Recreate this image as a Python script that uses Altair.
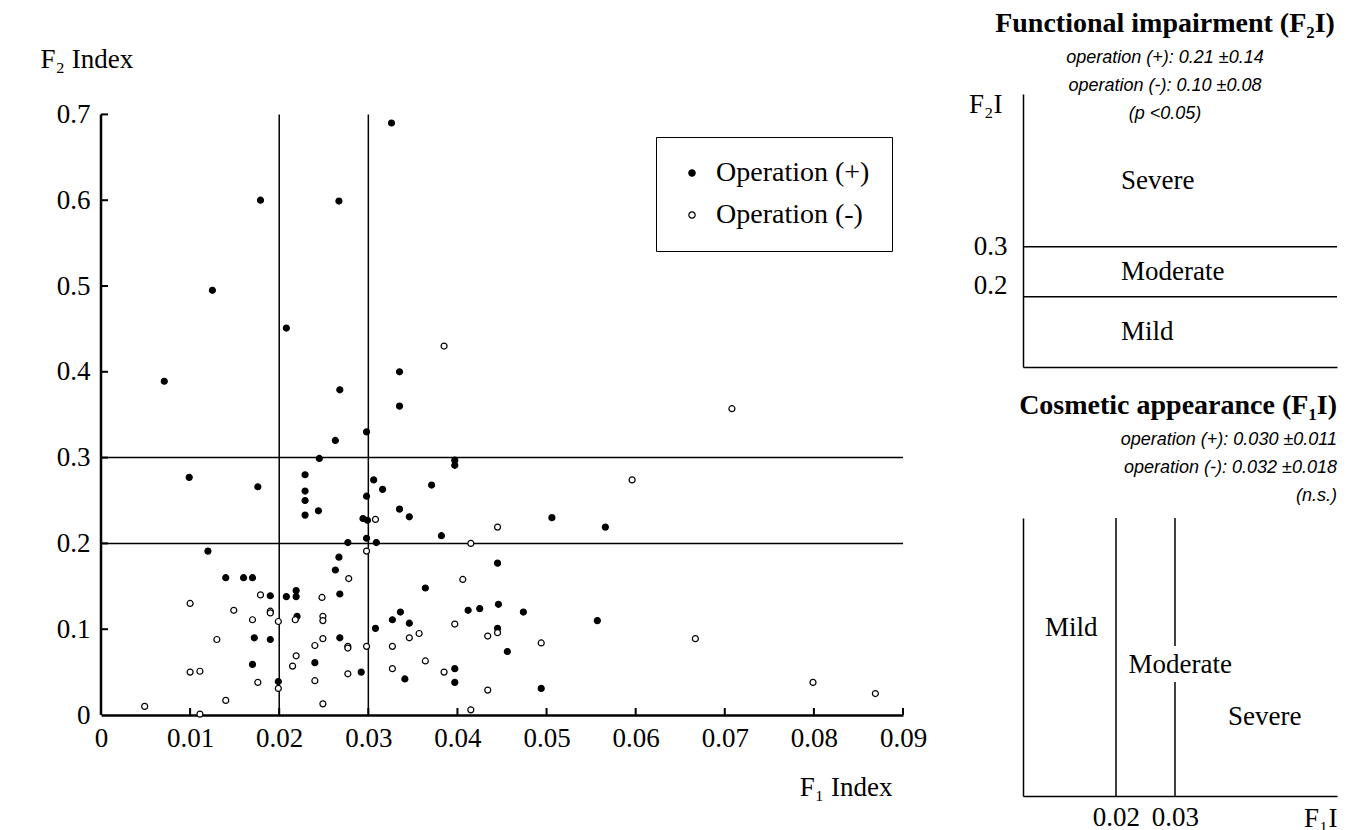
import altair as alt
import pandas as pd

# ---------------- data ----------------
groups = ["Operation (+)", "Operation (-)"]

plus_f1 = [0.0326, 0.0179, 0.0267, 0.0125, 0.0208, 0.0335, 0.0071, 0.0268, 0.0335, 0.0298,
           0.0263, 0.0245, 0.0397, 0.0397, 0.0099, 0.0176, 0.0229, 0.0229, 0.0229, 0.0229,
           0.0244, 0.0306, 0.0316, 0.0298, 0.0371, 0.0335, 0.0346, 0.0294, 0.0299, 0.0382,
           0.0298, 0.0277, 0.0309, 0.0120, 0.0267, 0.0445, 0.0263, 0.0140, 0.0160, 0.0170,
           0.0364, 0.0190, 0.0208, 0.0219, 0.0219, 0.0268, 0.0412, 0.0425, 0.0446, 0.0336,
           0.0346, 0.0308, 0.0327, 0.0220, 0.0445, 0.0172, 0.0190, 0.0268, 0.0170, 0.0240,
           0.0292, 0.0397, 0.0341, 0.0397, 0.0199, 0.0456, 0.0506, 0.0566, 0.0474, 0.0557,
           0.0494]
plus_f2 = [0.690, 0.600, 0.599, 0.495, 0.451, 0.400, 0.389, 0.379, 0.360, 0.330,
           0.320, 0.299, 0.297, 0.291, 0.277, 0.266, 0.280, 0.261, 0.250, 0.233,
           0.238, 0.274, 0.263, 0.255, 0.268, 0.240, 0.231, 0.229, 0.227, 0.209,
           0.206, 0.201, 0.201, 0.191, 0.184, 0.177, 0.169, 0.160, 0.160, 0.160,
           0.148, 0.139, 0.138, 0.145, 0.138, 0.141, 0.122, 0.124, 0.129, 0.120,
           0.107, 0.101, 0.111, 0.115, 0.101, 0.090, 0.088, 0.090, 0.059, 0.061,
           0.050, 0.054, 0.042, 0.038, 0.039, 0.074, 0.230, 0.219, 0.120, 0.110,
           0.031]

minus_f1 = [0.0385, 0.0308, 0.0445, 0.0415, 0.0298, 0.0278, 0.0406, 0.0179, 0.0248, 0.0100,
            0.0149, 0.0190, 0.0190, 0.0170, 0.0199, 0.0218, 0.0249, 0.0249, 0.0445, 0.0397,
            0.0434, 0.0357, 0.0346, 0.0130, 0.0249, 0.0240, 0.0277, 0.0277, 0.0298, 0.0327,
            0.0219, 0.0215, 0.0364, 0.0100, 0.0111, 0.0327, 0.0277, 0.0385, 0.0176, 0.0240,
            0.0199, 0.0434, 0.0140, 0.0049, 0.0249, 0.0111, 0.0415, 0.0708, 0.0596, 0.0494,
            0.0667, 0.0799, 0.0869]
minus_f2 = [0.430, 0.228, 0.219, 0.200, 0.191, 0.159, 0.158, 0.140, 0.137, 0.130,
            0.122, 0.121, 0.119, 0.111, 0.109, 0.111, 0.115, 0.110, 0.096, 0.106,
            0.092, 0.095, 0.090, 0.088, 0.089, 0.081, 0.080, 0.078, 0.080, 0.080,
            0.069, 0.057, 0.063, 0.050, 0.051, 0.054, 0.048, 0.050, 0.038, 0.040,
            0.031, 0.029, 0.017, 0.010, 0.013, 0.001, 0.006, 0.357, 0.274, 0.084,
            0.089, 0.038, 0.025]

x_ticks = [0, 0.01, 0.02, 0.03, 0.04, 0.05, 0.06, 0.07, 0.08, 0.09]
y_ticks = [0, 0.1, 0.2, 0.3, 0.4, 0.5, 0.6, 0.7]
f1_cut = [0.02, 0.03]
f2_cut = [0.2, 0.3]

f2_title = "Functional impairment (F\u2082I)"
f2_stats = ["operation (+): 0.21  \u00b10.14", "operation (-): 0.10  \u00b10.08", "(p <0.05)"]
f1_title = "Cosmetic appearance (F\u2081I)"
f1_stats = ["operation (+): 0.030  \u00b10.011", "operation (-): 0.032  \u00b10.018", "(n.s.)"]
severity = ["Mild", "Moderate", "Severe"]

# annotation anchors (data coordinates of each schematic panel)
f2_label_x = 0.312
f2_label_y = [0.129, 0.249, 0.432]
f1_label_x = [0.0124, 0.0309, 0.0452]
f1_label_y = [0.604, 0.471, 0.285]
f1_gap = [0.41, 0.54]   # gap in the 0.03 line around "Moderate"

# ---------------- styling ----------------
SERIF = "Liberation Serif"
SANS = "Liberation Sans"
FS = 27
W, H = 802, 621
PX_PER_Y = 858.0

xs = alt.Scale(domain=[0, 0.09], nice=False, zero=False)
ys = alt.Scale(domain=[0, H / PX_PER_Y], nice=False, zero=False)

X_AXIS = alt.Axis(values=x_ticks,
                  labelExpr="datum.value == 0 ? '0' : format(datum.value, '.2f')",
                  title="F\u2081 Index", ticks=False, grid=False,
                  domainColor="black", domainWidth=2.5,
                  labelFont=SERIF, labelFontSize=FS, labelColor="black", labelPadding=10,
                  labelFlush=False, labelOverlap=False,
                  titleFont=SERIF, titleFontSize=FS, titleFontWeight="normal", titleColor="black",
                  titleX=791, titleY=72, titleAlign="right", titleBaseline="middle")
Y_AXIS = alt.Axis(values=y_ticks,
                  labelExpr="datum.value == 0 ? '0' : format(datum.value, '.1f')",
                  title="F\u2082 Index", domain=False, ticks=False, grid=False,
                  labelFont=SERIF, labelFontSize=FS, labelColor="black", labelPadding=11,
                  labelFlush=False, labelOverlap=False,
                  titleFont=SERIF, titleFontSize=FS, titleFontWeight="normal", titleColor="black",
                  titleAngle=0, titleX=-61, titleY=-35, titleAlign="left", titleBaseline="middle")

# ---------------- main scatter ----------------
pts = pd.DataFrame({
    "f1": plus_f1 + minus_f1,
    "f2": plus_f2 + minus_f2,
    "group": [groups[0]] * len(plus_f1) + [groups[1]] * len(minus_f1),
})

yline = alt.Chart(pd.DataFrame({"lo": [min(y_ticks)], "hi": [max(y_ticks)]})).mark_rule(
    color="black", strokeWidth=2.5).encode(
    x=alt.XDatum(0, scale=xs),
    y=alt.Y("lo:Q", scale=ys, axis=Y_AXIS),
    y2="hi:Q")

hcut = alt.Chart(pd.DataFrame({"c": f2_cut, "x0": min(x_ticks), "x1": max(x_ticks)})).mark_rule(
    color="black", strokeWidth=1.5).encode(
    y=alt.Y("c:Q", scale=ys, axis=Y_AXIS),
    x=alt.X("x0:Q", scale=xs, axis=X_AXIS),
    x2="x1:Q")

vcut = alt.Chart(pd.DataFrame({"c": f1_cut, "y0": min(y_ticks), "y1": max(y_ticks)})).mark_rule(
    color="black", strokeWidth=1.5).encode(
    x=alt.X("c:Q", scale=xs, axis=X_AXIS),
    y=alt.Y("y0:Q", scale=ys, axis=Y_AXIS),
    y2="y1:Q")

xt = alt.Chart(pd.DataFrame({"v": x_ticks[1:]})).mark_rule(color="black", strokeWidth=2).encode(
    x=alt.X("v:Q", scale=xs, axis=X_AXIS),
    y=alt.YDatum(0, scale=ys),
    y2=alt.value(H - 7))

yt = alt.Chart(pd.DataFrame({"v": y_ticks[1:]})).mark_rule(color="black", strokeWidth=2).encode(
    y=alt.Y("v:Q", scale=ys, axis=Y_AXIS),
    x=alt.XDatum(0, scale=xs),
    x2=alt.value(7))

points = alt.Chart(pts).mark_circle(size=36, stroke="black", strokeWidth=1.2, opacity=1).encode(
    x=alt.X("f1:Q", scale=xs, axis=X_AXIS),
    y=alt.Y("f2:Q", scale=ys, axis=Y_AXIS),
    fill=alt.Fill("group:N", scale=alt.Scale(domain=groups, range=["black", "white"]),
                  legend=alt.Legend(title=None, orient="none", legendX=555, legendY=43,
                                    direction="vertical", strokeColor="black", padding=22,
                                    labelFont=SERIF, labelFontSize=28, labelColor="black",
                                    labelOffset=10, symbolType="circle", symbolSize=40,
                                    symbolStrokeColor="black", symbolStrokeWidth=1.2,
                                    rowPadding=14)),
)

main = alt.layer(yline, hcut, vcut, xt, yt, points).properties(width=W, height=H)

# ---------------- F2I schematic ----------------
PW, P2H, P1H = 314, 273, 278
f2x = alt.Scale(domain=[0, 1], nice=False, zero=False)
f2y = alt.Scale(domain=[0.0594, 0.6054], nice=False, zero=False)
F2_YAXIS = alt.Axis(values=f2_cut, format=".1f", ticks=False, grid=False,
                    domainColor="black", domainWidth=1.5,
                    labelFont=SERIF, labelFontSize=FS, labelColor="black", labelPadding=16,
                    labelOffset={"condition": {"test": "datum.value < 0.25", "value": -11}, "value": 0},
                    title="F\u2082I", titleAngle=0, titleX=-21, titleY=10, titleAlign="right",
                    titleBaseline="middle", titleFont=SERIF, titleFontSize=FS,
                    titleFontWeight="normal", titleColor="black")
F2_XAXIS = alt.Axis(labels=False, ticks=False, grid=False, title=None,
                    domainColor="black", domainWidth=1.5)

f2_rules = alt.Chart(pd.DataFrame({"cut": f2_cut})).mark_rule(color="black", strokeWidth=1.5).encode(
    y=alt.Y("cut:Q", scale=f2y, axis=F2_YAXIS),
    x=alt.XDatum(0, scale=f2x, axis=F2_XAXIS),
    x2=alt.X2Datum(1))
f2_text = alt.Chart(pd.DataFrame({"label": severity, "y": f2_label_y})).mark_text(
    font=SERIF, fontSize=FS, align="left", baseline="middle", color="black").encode(
    y=alt.Y("y:Q", scale=f2y, axis=F2_YAXIS),
    x=alt.XDatum(f2_label_x, scale=f2x, axis=F2_XAXIS),
    text="label:N")

f2_panel = alt.layer(f2_rules, f2_text).properties(
    width=PW, height=P2H,
    title=alt.TitleParams(text=f2_title, subtitle=f2_stats, font=SERIF, fontSize=28,
                          fontWeight="bold", color="black", subtitleFont=SANS,
                          subtitleFontSize=18, subtitleFontStyle="italic", subtitleColor="black",
                          subtitleLineHeight=28, subtitlePadding=11, anchor="middle",
                          dx=-15, offset=-33))

# ---------------- F1I schematic ----------------
f1x = alt.Scale(domain=[0.004237, 0.05746], nice=False, zero=False)
f1y = alt.Scale(domain=[0, 1], nice=False, zero=False)
F1_XAXIS = alt.Axis(values=f1_cut, format=".2f", ticks=False, grid=False,
                    domainColor="black", domainWidth=1.5,
                    labelFont=SERIF, labelFontSize=FS, labelColor="black", labelPadding=8,
                    labelFlush=False,
                    title="F\u2081I", titleX=PW, titleY=22, titleAlign="right",
                    titleBaseline="middle", titleFont=SERIF, titleFontSize=FS,
                    titleFontWeight="normal", titleColor="black")
F1_YAXIS = alt.Axis(labels=False, ticks=False, grid=False, title=None,
                    domainColor="black", domainWidth=1.5)

seg = pd.DataFrame({
    "c": [f1_cut[0], f1_cut[1], f1_cut[1]],
    "y0": [0, 0, f1_gap[1]],
    "y1": [1, f1_gap[0], 1],
})
f1_rules = alt.Chart(seg).mark_rule(color="black", strokeWidth=1.5).encode(
    x=alt.X("c:Q", scale=f1x, axis=F1_XAXIS),
    y=alt.Y("y0:Q", scale=f1y, axis=F1_YAXIS),
    y2="y1:Q")
f1_text = alt.Chart(pd.DataFrame({"label": severity, "x": f1_label_x, "y": f1_label_y})).mark_text(
    font=SERIF, fontSize=FS, align="center", baseline="middle", color="black").encode(
    x=alt.X("x:Q", scale=f1x, axis=F1_XAXIS),
    y=alt.Y("y:Q", scale=f1y, axis=F1_YAXIS),
    text="label:N")

f1_panel = alt.layer(f1_rules, f1_text).properties(
    width=PW, height=P1H,
    title=alt.TitleParams(text=f1_title, subtitle=f1_stats, font=SERIF, fontSize=28,
                          fontWeight="bold", color="black", subtitleFont=SANS,
                          subtitleFontSize=18, subtitleFontStyle="italic", subtitleColor="black",
                          subtitleLineHeight=28, subtitlePadding=11, anchor="end",
                          offset=12))

right = alt.vconcat(f2_panel, f1_panel, spacing=151, bounds="flush")

chart = alt.hconcat(main, right, spacing=120, bounds="flush").properties(
    padding={"left": 40, "top": 10, "right": 5, "bottom": 2},
    background="white",
).configure_view(stroke=None)

chart.save("out.html", embed_options={"renderer": "svg", "actions": False})
